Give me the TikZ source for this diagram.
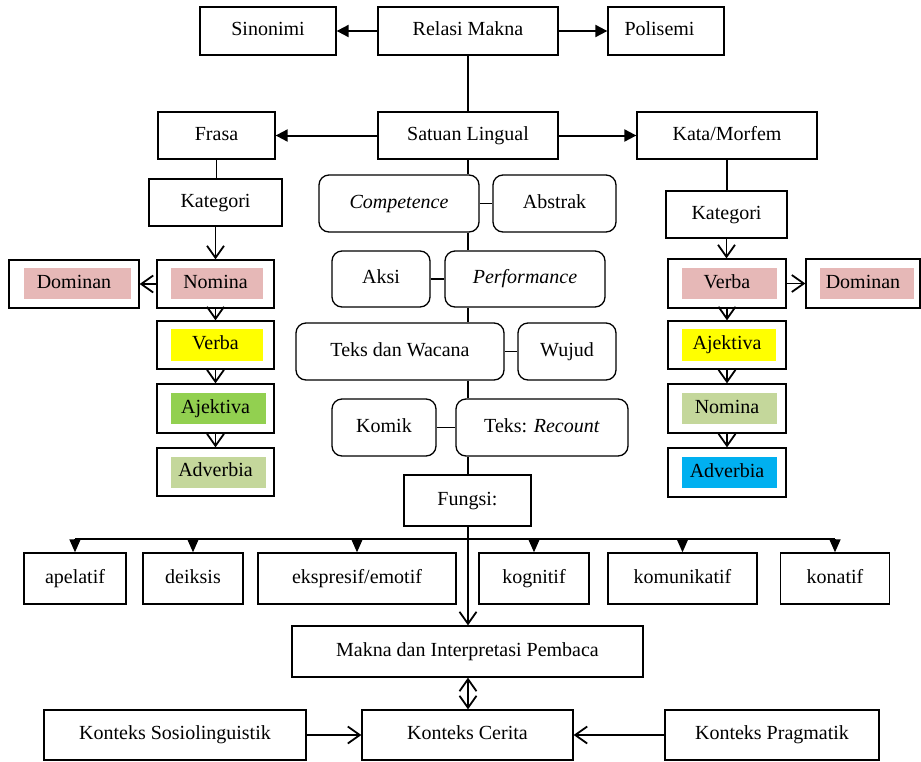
\documentclass[tikz,border=0pt]{standalone}
\usepackage{fontspec}
\setmainfont{Liberation Serif}
\usetikzlibrary{arrows.meta}
\definecolor{hlpink}{HTML}{E6B8B7}
\definecolor{hlyellow}{HTML}{FFFF00}
\definecolor{hlgreen}{HTML}{92D050}
\definecolor{hlolive}{HTML}{C4D79B}
\definecolor{hlcyan}{HTML}{00B0F0}
\begin{document}
\begin{tikzpicture}[x=1pt,y=-1pt,font=\fontsize{20}{24}\selectfont,
  box/.style 2 args={draw,line width=1.3pt,fill=white,inner sep=0pt,
    text height=13.5pt,text depth=4.5pt,
    minimum width=#1,minimum height=#2},
  hbox/.style 2 args={draw,line width=1.3pt,inner sep=0pt,
    text height=13.5pt,text depth=4.5pt,
    minimum width=#1,minimum height=#2},
  rbox/.style 2 args={box={#1}{#2},rounded corners=10pt},
  link/.style={line width=1.3pt},
  fillar/.style={line width=2pt,-{Triangle[length=12pt,width=12pt]}},
  barb/.style={line width=1.8pt,-{Straight Barb[length=12pt,width=17pt]}},
  dbl/.style={line width=1.8pt,{Straight Barb[length=12pt,width=17pt]}-{Straight Barb[length=12pt,width=17pt]}},
  barline/.style={line width=2.6pt},
  dropar/.style={line width=1.5pt,-{Triangle[length=13pt,width=11pt]}}]
\useasboundingbox (0,0) rectangle (921,761);

% highlight fills behind the category labels
\fill[hlpink]   (171,268) rectangle (263,299);
\fill[hlyellow] (171,329) rectangle (263,361);
\fill[hlgreen]  (171,393) rectangle (266,424);
\fill[hlolive]  (171,457) rectangle (266,488);
\fill[hlpink]   (24,268)  rectangle (131,299);
\fill[hlpink]   (682,268) rectangle (777,299);
\fill[hlyellow] (682,329) rectangle (776,361);
\fill[hlolive]  (682,393) rectangle (777,424);
\fill[hlcyan]   (682,457) rectangle (777,488);
\fill[hlpink]   (820,268) rectangle (914,299);

% top levels
\node[box={136}{48}] (sin) at (268,31) {Sinonimi};
\node[box={180}{48}] (rel) at (468,31) {Relasi Makna};
\node[box={116}{48}] (pol) at (666,31) {Polisemi\hspace*{13pt}};
\node[box={180}{47}] (sat) at (468,135.5) {Satuan Lingual};
\node[box={117}{47}] (fra) at (216.5,135.5) {Frasa};
\node[box={180}{47}] (kat) at (727,135.5) {Kata/Morfem};
\node[box={133}{47}] (katl) at (215.5,202.5) {Kategori};
\node[box={121}{47}] (katr) at (726.5,214.5) {Kategori};

% left category column
\node[hbox={117}{48}] (noml) at (215.5,284) {Nomina};
\node[hbox={117}{48}] (verl) at (215.5,345) {Verba};
\node[hbox={117}{49}] (ajkl) at (215.5,408.5) {Ajektiva};
\node[hbox={117}{48}] (advl) at (215.5,472) {Adverbia};
\node[hbox={130}{48}] (doml) at (74,284) {Dominan};

% right category column
\node[hbox={118}{49}] (verr) at (727,283.5) {Verba};
\node[hbox={118}{48}] (ajkr) at (727,345) {Ajektiva};
\node[hbox={118}{49}] (nomr) at (727,408.5) {Nomina};
\node[hbox={118}{49}] (advr) at (727,472.5) {Adverbia};
\node[hbox={114}{49}] (domr) at (863,283.5) {Dominan};

% central chain
\node[rbox={160}{57}] (comp) at (399,203.5) {\itshape Competence};
\node[rbox={123}{57}] (abs) at (554.5,203.5) {Abstrak};
\node[rbox={98}{56}] (aksi) at (381,279) {Aksi};
\node[rbox={160}{56}] (perf) at (525,279) {\itshape Performance};
\node[rbox={208}{57}] (tdw) at (400,351.5) {Teks dan Wacana};
\node[rbox={98}{57}] (wuj) at (567,351.5) {Wujud};
\node[rbox={104}{57}] (kom) at (384,427.5) {Komik};
\node[rbox={172}{57}] (rec) at (542,427.5) {Teks: \textit{Recount}};
\node[box={127}{51}] (fun) at (467.5,500.5) {Fungsi:};

% functions
\node[box={102}{51}] (ape) at (75,578.5) {apelatif};
\node[box={100}{51}] (dei) at (193,578.5) {deiksis};
\node[box={198}{51}] (eks) at (357,578.5) {ekspresif/emotif};
\node[box={110}{51}] (kog) at (534,578.5) {kognitif};
\node[box={149}{51}] (kmk) at (682.5,578.5) {komunikatif};
\node[box={109}{51}] (kon) at (835,578.5) {konatif};

% bottom
\node[box={351}{51}] (mak) at (467.5,651.5) {Makna dan Interpretasi Pembaca};
\node[box={211}{50}] (kc) at (467.5,735) {Konteks Cerita};
\node[box={262}{50}] (ks) at (175,735) {Konteks Sosiolinguistik};
\node[box={214}{50}] (kp) at (772,735) {Konteks Pragmatik};

% connectors
\draw[fillar] (rel.west) -- (sin.east);
\draw[fillar] (rel.east) -- (pol.west);
\draw[link] (rel.south) -- (sat.north);
\draw[fillar] (sat.west) -- (fra.east);
\draw[fillar] (sat.east) -- (kat.west);
\draw[link] (fra.south) -- (fra.south |- katl.north);
\draw[link] (kat.south) -- (kat.south |- katr.north);

\draw[barb] (katl.south) -- (noml.north);
\draw[barb] (noml.west) -- (doml.east);
\draw[barb] (noml.south) -- (verl.north);
\draw[barb] (verl.south) -- (ajkl.north);
\draw[barb] (ajkl.south) -- (advl.north);

\draw[barb] (katr.south) -- (katr.south |- verr.north);
\draw[barb] (verr.east) -- (domr.west);
\draw[barb] (verr.south) -- (ajkr.north);
\draw[barb] (ajkr.south) -- (nomr.north);
\draw[barb] (nomr.south) -- (advr.north);

\coordinate (sp) at (468,0);
\draw[link] (sat.south) -- (sp |- comp.north);
\draw[link] (sp |- comp.south) -- (sp |- perf.north);
\draw[link] (sp |- perf.south) -- (sp |- tdw.north);
\draw[link] (sp |- tdw.south) -- (sp |- rec.north);
\draw[link] (sp |- rec.south) -- (sp |- fun.north);
\draw[link] (comp.east) -- (abs.west);
\draw[link] (aksi.east) -- (perf.west);
\draw[link] (tdw.east) -- (wuj.west);
\draw[link] (kom.east) -- (rec.west);

\coordinate (bar) at (468,539);
\draw[barline] (bar -| ape.north) -- (bar -| kon.north);
\foreach \n in {ape,dei,eks,kog,kmk,kon}
  \draw[dropar] (bar -| \n.north) -- (\n.north);
\draw[barb] (sp |- fun.south) -- (sp |- mak.north);

\draw[dbl] (sp |- mak.south) -- (sp |- kc.north);
\draw[barb] (ks.east) -- (kc.west);
\draw[barb] (kp.west) -- (kc.east);
\end{tikzpicture}
\end{document}
